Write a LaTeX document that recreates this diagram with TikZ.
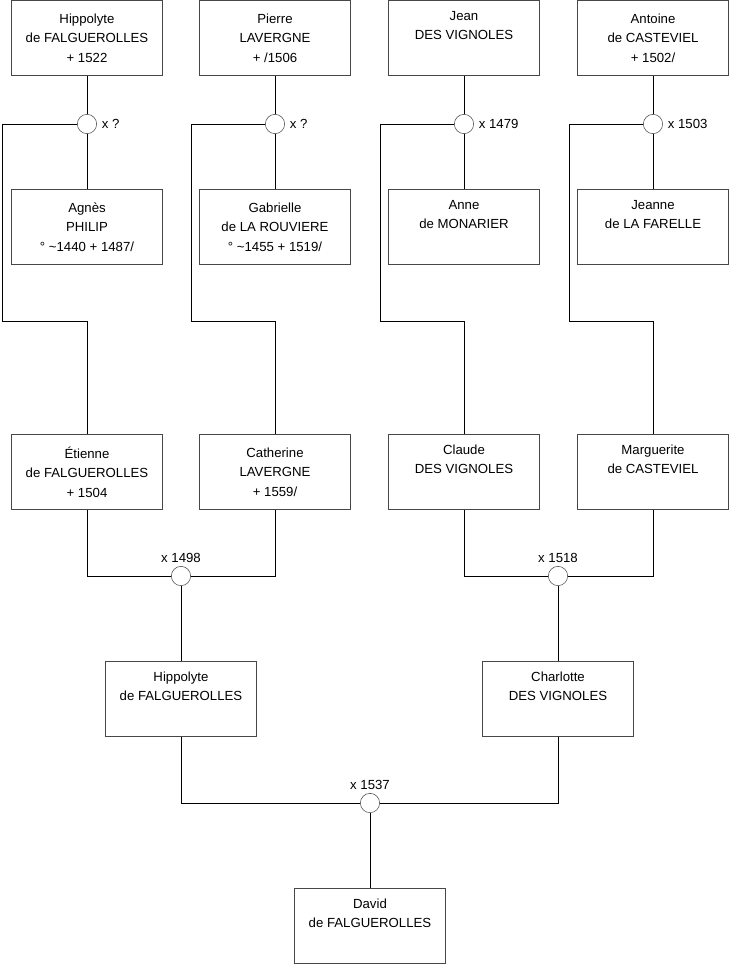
\documentclass[tikz,border=0pt]{standalone}
\usepackage{fontspec}
\setmainfont{Liberation Sans}
\begin{document}
\begin{tikzpicture}[x=0.75pt,y=-0.75pt,
  person/.style={draw=black!72, fill=white, minimum width=113pt, minimum height=56.25pt,
    align=center, font=\fontsize{9.9}{14.6}\selectfont, inner sep=0pt},
  wed/.style={circle, draw=black!72, fill=white, minimum size=14.5pt, inner sep=0pt},
  link/.style={draw=black, line width=0.7pt},
  datel/.style={font=\fontsize{9.9}{11}\selectfont, inner sep=1.5pt}]
\useasboundingbox (0,0) rectangle (740,975);
% row 1
\node[person] (p1) at (87,38) {Hippolyte\\de FALGUEROLLES\\+ 1522};
\node[person] (p2) at (275,38) {Pierre\\LAVERGNE\\+ /1506};
\node[person] (p3) at (464,38) {Jean\\DES VIGNOLES\\\strut};
\node[person] (p4) at (653,38) {Antoine\\de CASTEVIEL\\+ 1502/};
% marriages 1
\node[wed] (m1) at (87,124) {};
\node[wed] (m2) at (275,124) {};
\node[wed] (m3) at (464,124) {};
\node[wed] (m4) at (653,124) {};
\node[datel, anchor=west] (t1) at ([xshift=2pt]m1.east) {x ?};
\node[datel, anchor=west] (t2) at ([xshift=2pt]m2.east) {x ?};
\node[datel, anchor=west] (t3) at ([xshift=2pt]m3.east) {x 1479};
\node[datel, anchor=west] (t4) at ([xshift=2pt]m4.east) {x 1503};
% row 2
\node[person] (w1) at (87,227) {Agnès\\PHILIP\\° \textasciitilde 1440 + 1487/};
\node[person] (w2) at (275,227) {Gabrielle\\de LA ROUVIERE\\° \textasciitilde 1455 + 1519/};
\node[person] (w3) at (464,227) {Anne\\de MONARIER\\\strut};
\node[person] (w4) at (653,227) {Jeanne\\de LA FARELLE\\\strut};
% row 3
\node[person] (e1) at (87,472) {Étienne\\de FALGUEROLLES\\+ 1504};
\node[person] (e2) at (275,472) {Catherine\\LAVERGNE\\+ 1559/};
\node[person] (e3) at (464,472) {Claude\\DES VIGNOLES\\\strut};
\node[person] (e4) at (653,472) {Marguerite\\de CASTEVIEL\\\strut};
% marriages 2
\node[wed] (m5) at (181,576) {};
\node[wed] (m6) at (558,576) {};
\node[datel, anchor=south] (t5) at ([yshift=1pt]m5.north) {x 1498};
\node[datel, anchor=south] (t6) at ([yshift=1pt]m6.north) {x 1518};
% row 4
\node[person] (h1) at (181,699) {Hippolyte\\de FALGUEROLLES\\\strut};
\node[person] (h2) at (558,699) {Charlotte\\DES VIGNOLES\\\strut};
% marriage 3
\node[wed] (m7) at (370,803) {};
\node[datel, anchor=south] (t7) at ([yshift=1pt]m7.north) {x 1537};
% row 5
\node[person] (d) at (370,926) {David\\de FALGUEROLLES\\\strut};
% corner coordinates
\coordinate (k1) at (2,321);
\coordinate (k2) at (191,321);
\coordinate (k3) at (380,321);
\coordinate (k4) at (569,321);
% connectors
\foreach \i in {1,2,3,4}{
  \draw[link] (p\i.south) -- (m\i.north);
  \draw[link] (m\i.south) -- (w\i.north);
  \draw[link] (m\i.west) -| (k\i) -| (e\i.north);
}
\draw[link] (e1.south) |- (m5.west);
\draw[link] (e2.south) |- (m5.east);
\draw[link] (e3.south) |- (m6.west);
\draw[link] (e4.south) |- (m6.east);
\draw[link] (m5.south) -- (h1.north);
\draw[link] (m6.south) -- (h2.north);
\draw[link] (h1.south) |- (m7.west);
\draw[link] (h2.south) |- (m7.east);
\draw[link] (m7.south) -- (d.north);
\end{tikzpicture}
\end{document}
